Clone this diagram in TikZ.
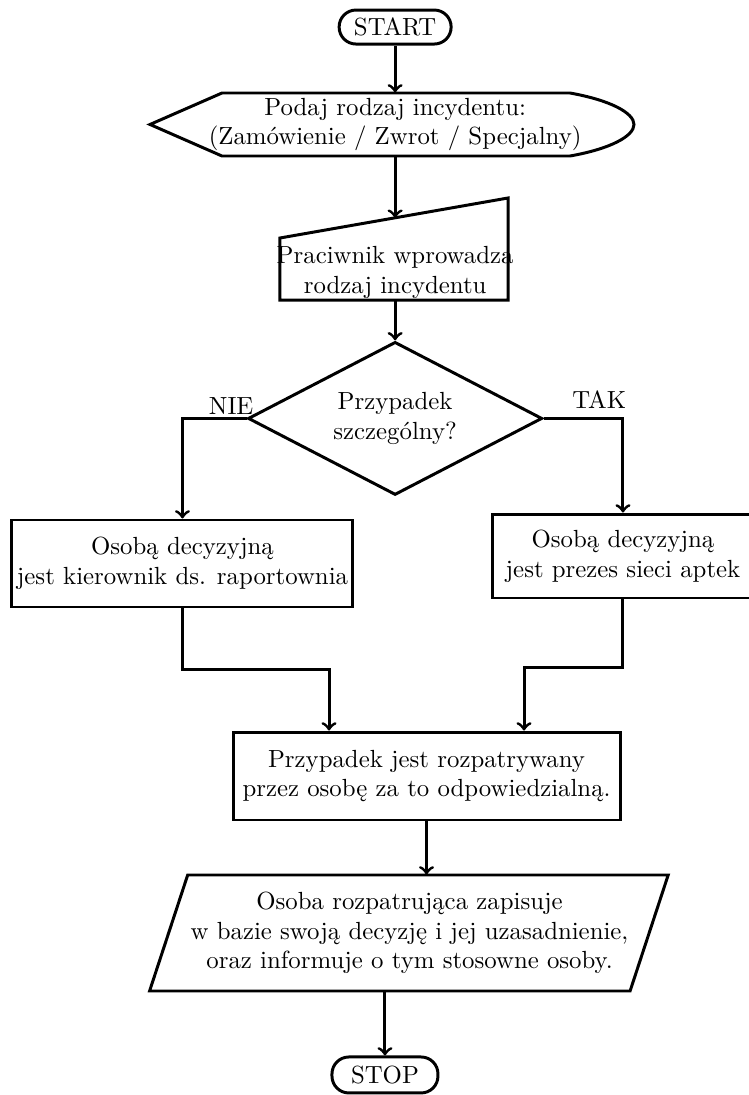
\documentclass[tikz,border=0pt]{standalone}
\usepackage{fontspec}
\usetikzlibrary{shapes.geometric,calc}

\tikzset{
    terminal/.style={draw, very thick, rectangle, rounded corners=6.8pt, inner sep=0pt},
    process/.style={draw, very thick, rectangle, align=center, inner sep=0pt},
    decision/.style={draw, very thick, diamond, align=center, inner sep=0pt, shape aspect=1.9, minimum width=4.17cm, minimum height=2.17cm},
    flow/.style={->, very thick}
}

\begin{document}
\begin{tikzpicture}
    \useasboundingbox (0,0) rectangle (10.615,-15.519);

    \node[terminal, minimum width=1.587cm, minimum height=0.482cm] (start) at (5.6,-0.383) {START};

    % ekran
    \node[align=center, inner sep=0pt, minimum height=0.893cm] (disp) at (5.6,-1.764) {Podaj rodzaj incydentu:\\(Zamówienie / Zwrot / Specjalny)};
    \draw[very thick] (3.146,-1.318) -- (8.078,-1.318) .. controls (8.65,-1.42) and (8.985,-1.6) .. (8.985,-1.764)
        .. controls (8.985,-1.93) and (8.65,-2.11) .. (8.078,-2.211) -- (3.146,-2.211) -- (2.126,-1.764) -- cycle;

    % wprowadzanie reczne
    \node[align=center, inner sep=0.5pt, anchor=south] (manual) at (5.6,-4.252) {Praciwnik wprowadza\\rodzaj incydentu};
    \draw[very thick] (3.968,-3.373) -- (7.200,-2.806) -- (7.200,-4.252) -- (3.968,-4.252) -- cycle;
    \coordinate (mtop) at (5.6,-3.087);

    \node[decision] (dec) at (5.6,-5.93) {Przypadek\\szczególny?};

    \node[process, minimum width=4.833cm, minimum height=1.233cm] (left) at (2.586,-7.986) {Osobą decyzyjną\\jest kierownik ds. raportownia};
    \node[process, minimum width=3.685cm, minimum height=1.190cm] (right) at (8.829,-7.880) {Osobą decyzyjną\\jest prezes sieci aptek};
    \node[process, minimum width=5.485cm, minimum height=1.247cm] (merge) at (6.045,-10.998) {Przypadek jest rozpatrywany\\przez osobę za to odpowiedzialną.};

    % zapis do bazy
    \node[align=center, inner sep=0pt, minimum height=1.644cm] (save) at (5.804,-13.223) {Osoba rozpatrująca zapisuje\\w bazie swoją decyzję i jej uzasadnienie,\\oraz informuje o tym stosowne osoby.};
    \draw[very thick] (2.66,-12.401) -- (9.47,-12.401) -- (8.93,-14.045) -- (2.12,-14.045) -- cycle;

    \node[terminal, minimum width=1.502cm, minimum height=0.51cm] (stop) at (5.456,-15.235) {STOP};

    \draw[flow] (start) -- (disp);
    \draw[flow] (disp) -- (mtop);
    \draw[flow] (manual) -- (dec);
    \draw[flow] (dec.west) -| node[above, pos=.12, inner sep=1pt] {NIE} (left);
    \draw[flow] (dec.east) -| node[above, pos=.35] {TAK} (right);
    \draw[flow] (left.south) -- ++(0,-0.864) -| ($(merge.north west)!.25!(merge.north east)$);
    \draw[flow] (right.south) -- ++(0,-0.964) -| ($(merge.north west)!.75!(merge.north east)$);
    \draw[flow] (merge) -- (merge |- save.north);
    \draw[flow] (stop |- save.south) -- (stop);
\end{tikzpicture}
\end{document}
